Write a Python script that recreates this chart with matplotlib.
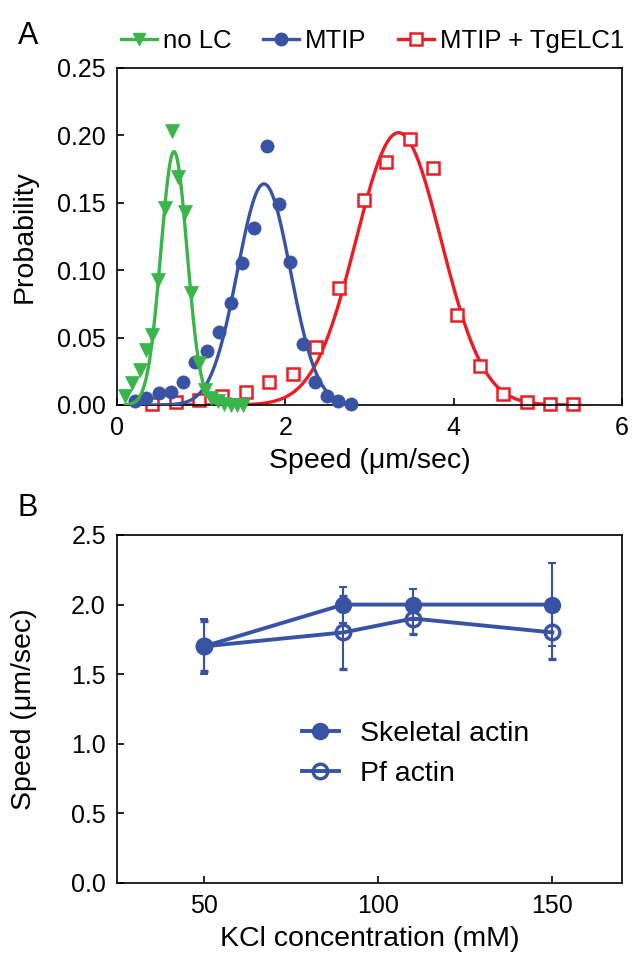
"""Distribución de velocidades (A) y velocidad vs KCl (B)."""

import numpy as np
import matplotlib
matplotlib.use('Agg')
import matplotlib.pyplot as plt  # noqa: E402
from matplotlib.lines import Line2D  # noqa: E402

plt.rcParams['font.family'] = ['Liberation Sans', 'DejaVu Sans']
plt.rcParams['axes.linewidth'] = 1.2

GREEN = '#39b54a'
BLUE = '#3953a4'
RED = '#ed1c24'

# --- Panel A: histogramas de velocidad ---
nolc_x = [0.10, 0.18, 0.27, 0.35, 0.41, 0.49, 0.57, 0.65, 0.73, 0.81, 0.88,
          0.97, 1.05, 1.12, 1.20, 1.27, 1.35, 1.43, 1.50]
nolc_y = [0.007, 0.016, 0.026, 0.041, 0.052, 0.093, 0.146, 0.203, 0.169, 0.143,
          0.083, 0.031, 0.011, 0.005, 0.003, 0.001, 0.000, 0.000, 0.000]

mtip_x = [0.21, 0.35, 0.50, 0.64, 0.78, 0.93, 1.07, 1.21, 1.36, 1.49, 1.63,
          1.78, 1.92, 2.06, 2.21, 2.35, 2.49, 2.63, 2.78]
mtip_y = [0.003, 0.005, 0.009, 0.010, 0.017, 0.032, 0.040, 0.054, 0.076, 0.105,
          0.131, 0.192, 0.149, 0.106, 0.045, 0.017, 0.007, 0.003, 0.001]

elc_x = [0.42, 0.70, 0.97, 1.25, 1.53, 1.81, 2.09, 2.36, 2.64, 2.93, 3.20,
         3.48, 3.76, 4.04, 4.31, 4.59, 4.87, 5.14, 5.42]
elc_y = [0.001, 0.002, 0.004, 0.007, 0.010, 0.017, 0.023, 0.043, 0.087, 0.152,
         0.180, 0.197, 0.176, 0.067, 0.029, 0.008, 0.002, 0.001, 0.001]

# ajustes gaussianos (amplitud, centro, sigma, rango dibujado)
nolc_fit = (0.188, 0.677, 0.156, 0.10, 1.50)
mtip_fit = (0.164, 1.746, 0.315, 0.20, 2.80)
elc_fit = (0.202, 3.345, 0.505, 0.40, 5.50)

# --- Panel B: velocidad vs KCl ---
kcl = [50, 90, 110, 150]
skel_speed = [1.7, 2.0, 2.0, 2.0]
skel_err = [0.2, 0.13, 0.11, 0.30]
pf_speed = [1.7, 1.8, 1.9, 1.8]
pf_err = [0.18, 0.26, 0.11, 0.19]


def gauss_curve(fit):
    amp, mu, sigma, x0, x1 = fit
    xs = np.linspace(x0, x1, 300)
    return xs, amp * np.exp(-(xs - mu) ** 2 / (2 * sigma ** 2))


fig = plt.figure(figsize=(6.32, 9.58), dpi=100)
ax_a = fig.add_axes([117 / 632, 1 - 405 / 958, 505 / 632, 337 / 958])
ax_b = fig.add_axes([117 / 632, 1 - 883 / 958, 505 / 632, 348 / 958])

series = [
    (elc_x, elc_y, elc_fit, RED, 's', 'white', 'MTIP + TgELC1', 2),
    (mtip_x, mtip_y, mtip_fit, BLUE, 'o', BLUE, 'MTIP', 3),
    (nolc_x, nolc_y, nolc_fit, GREEN, 'v', GREEN, 'no LC', 4),
]
for xs, ys, fit, color, marker, face, label, z in series:
    cx, cy = gauss_curve(fit)
    ax_a.plot(cx, cy, color=color, linewidth=2.4, zorder=z)
    ax_a.plot(xs, ys, linestyle='none', marker=marker,
              markersize=9.5 if marker != 's' else 9,
              markerfacecolor=face, markeredgecolor=color,
              markeredgewidth=1.8 if marker == 's' else 0.5,
              clip_on=False, zorder=z + 0.5)

ax_a.set_xlim(0, 6)
ax_a.set_ylim(0, 0.25)
ax_a.set_xticks([0, 2, 4, 6])
ax_a.set_yticks(np.arange(0, 0.26, 0.05))
ax_a.set_yticklabels([f'{v:.2f}' for v in np.arange(0, 0.26, 0.05)])
ax_a.set_xlabel('Speed (μm/sec)', fontsize=20.5, labelpad=6)
ax_a.set_ylabel('Probability', fontsize=20.5)
ax_a.yaxis.set_label_coords(-0.158, 0.5)

handles = [
    Line2D([], [], color=GREEN, marker='v', markersize=9, linewidth=2.4,
           markerfacecolor=GREEN, markeredgecolor=GREEN),
    Line2D([], [], color=BLUE, marker='o', markersize=9, linewidth=2.4,
           markerfacecolor=BLUE, markeredgecolor=BLUE),
    Line2D([], [], color=RED, marker='s', markersize=8.5, linewidth=2.4,
           markerfacecolor='white', markeredgecolor=RED, markeredgewidth=1.8),
]
fig.legend(handles, ['no LC', 'MTIP', 'MTIP + TgELC1'], ncol=3,
           loc='center left', bbox_to_anchor=(121 / 632, 1 - 41 / 958),
           frameon=False, fontsize=18.5, handlelength=1.4, handletextpad=0.25,
           columnspacing=1.2, borderpad=0, borderaxespad=0)

# --- Panel B ---
ax_b.errorbar(kcl, pf_speed, yerr=pf_err, color=BLUE, marker='o',
              markersize=10.5, markerfacecolor='none', markeredgewidth=2.4,
              linewidth=2.8, elinewidth=1.5, capsize=3, capthick=1.5,
              clip_on=False, label='Pf actin')
ax_b.errorbar(kcl, skel_speed, yerr=skel_err, color=BLUE, marker='o',
              markersize=11.5, linewidth=2.8, elinewidth=1.5, capsize=3,
              capthick=1.5, clip_on=False, label='Skeletal actin')

ax_b.set_xlim(25, 170)
ax_b.set_ylim(0, 2.5)
ax_b.set_xticks([50, 100, 150])
ax_b.set_yticks(np.arange(0, 2.51, 0.5))
ax_b.set_yticklabels([f'{v:.1f}' for v in np.arange(0, 2.51, 0.5)])
ax_b.set_xlabel('KCl concentration (mM)', fontsize=20.5, labelpad=6)
ax_b.set_ylabel('Speed (μm/sec)', fontsize=20.5)
ax_b.yaxis.set_label_coords(-0.158, 0.5)

leg_handles, leg_labels = ax_b.get_legend_handles_labels()
leg_handles = [h[0] for h in leg_handles][::-1]
leg_labels = leg_labels[::-1]
ax_b.legend(leg_handles, leg_labels, loc='center left',
            bbox_to_anchor=(0.366, 0.37), frameon=False, fontsize=20.5,
            handlelength=1.3, handletextpad=0.75, labelspacing=0.5,
            borderpad=0, borderaxespad=0)

for ax in (ax_a, ax_b):
    ax.tick_params(direction='in', length=5, width=1.2, labelsize=18, pad=8)

fig.text(18 / 632, 1 - 36 / 958, 'A', fontsize=22, va='center', ha='left')
fig.text(18 / 632, 1 - 508 / 958, 'B', fontsize=22, va='center', ha='left')

fig.savefig('out.png', dpi=100)
